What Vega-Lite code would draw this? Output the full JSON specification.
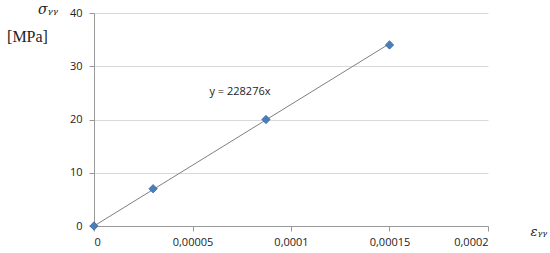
{
  "$schema": "https://vega.github.io/schema/vega-lite/v6.json",
  "width": 394,
  "height": 213,
  "autosize": {"type": "none"},
  "padding": {"left": 94, "top": 13, "right": 62, "bottom": 27},
  "background": "white",
  "config": {
    "view": {"stroke": null},
    "font": "Open Sans",
    "axis": {"labelFont": "Open Sans", "labelFontSize": 11, "labelColor": "#222", "domainColor": "#999", "tickColor": "#999", "gridColor": "#d9d9d9", "tickSize": 5}
  },
  "datasets": {
    "pts": [
      {"strain": 0, "stress": 0},
      {"strain": 0.00003, "stress": 7},
      {"strain": 0.0000873, "stress": 20},
      {"strain": 0.00015, "stress": 34}
    ],
    "trend": [
      {"strain": 0, "stress": 0},
      {"strain": 0.00015, "stress": 34.24}
    ],
    "eq": [
      {"strain": 0.0000741, "stress": 25.2, "label": "y = 228276x"}
    ]
  },
  "layer": [
    {
      "data": {"name": "trend"},
      "mark": {"type": "line", "color": "#7f7f7f", "strokeWidth": 1},
      "encoding": {
        "x": {
          "field": "strain", "type": "quantitative",
          "scale": {"domain": [0, 0.0002], "nice": false},
          "axis": {
            "values": [0, 0.00005, 0.0001, 0.00015, 0.0002],
            "labelExpr": "replace(toString(datum.value), '.', ',')",
            "grid": false,
            "labelPadding": 5,
            "title": "εᵧᵧ",
            "titleFont": "DejaVu Serif",
            "titleFontStyle": "italic",
            "titleFontWeight": "normal",
            "titleFontSize": 13,
            "titleColor": "#222",
            "titleX": 436,
            "titleY": 5,
            "titleAlign": "left",
            "titleBaseline": "middle"
          }
        },
        "y": {
          "field": "stress", "type": "quantitative",
          "scale": {"domain": [0, 40], "nice": false},
          "axis": {
            "values": [0, 10, 20, 30, 40],
            "grid": true,
            "labelPadding": 7,
            "title": "[MPa]",
            "titleFont": "Liberation Serif",
            "titleFontWeight": "normal",
            "titleFontSize": 16,
            "titleColor": "#222",
            "titleAngle": 0,
            "titleX": -67,
            "titleY": 23,
            "titleAlign": "center",
            "titleBaseline": "middle"
          }
        }
      }
    },
    {
      "data": {"name": "pts"},
      "mark": {"type": "point", "shape": "diamond", "filled": true, "size": 70, "color": "#4a7ebb", "stroke": "#3a6aa5", "strokeWidth": 0.8, "opacity": 1},
      "encoding": {
        "x": {"field": "strain", "type": "quantitative"},
        "y": {"field": "stress", "type": "quantitative"}
      }
    },
    {
      "data": {"name": "eq"},
      "mark": {"type": "text", "font": "Open Sans", "fontSize": 11, "color": "#222"},
      "encoding": {
        "x": {"field": "strain", "type": "quantitative"},
        "y": {"field": "stress", "type": "quantitative"},
        "text": {"field": "label"}
      }
    }
  ],
  "title": {
    "text": "σᵧᵧ",
    "font": "DejaVu Serif",
    "fontStyle": "italic",
    "fontWeight": "normal",
    "fontSize": 14,
    "color": "#222",
    "anchor": "start",
    "frame": "group",
    "orient": "top",
    "dx": -56,
    "dy": 10,
    "offset": 0
  }
}
